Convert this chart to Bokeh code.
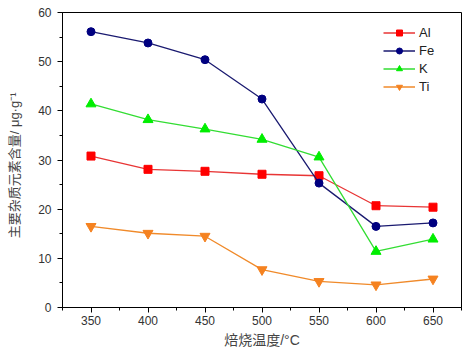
from bokeh.plotting import figure
from bokeh.models import ColumnDataSource, Range1d, SingleIntervalTicker, Legend, LegendItem
from bokeh.embed import file_html
from bokeh.resources import INLINE

temps = [350, 400, 450, 500, 550, 600, 650]
al = [30.8, 28.1, 27.7, 27.1, 26.8, 20.7, 20.4]
fe = [56.1, 53.8, 50.4, 42.4, 25.3, 16.5, 17.2]
k = [41.4, 38.2, 36.3, 34.2, 30.6, 11.4, 13.9]
ti = [16.5, 15.1, 14.5, 7.7, 5.3, 4.6, 5.8]
x_ticks = [350, 400, 450, 500, 550, 600, 650]
y_ticks = [0, 10, 20, 30, 40, 50, 60]

p = figure(width=471, height=355, output_backend="svg", toolbar_location=None,
           x_range=Range1d(325, 675), y_range=Range1d(0, 60),
           min_border_left=62, min_border_right=10, min_border_top=12, min_border_bottom=48)
p.background_fill_color = "white"
p.border_fill_color = "white"
p.outline_line_color = "black"
p.outline_line_width = 1
p.xgrid.visible = False
p.ygrid.visible = False

src = ColumnDataSource(dict(t=temps, al=al, fe=fe, k=k, ti=ti))

series = [
    ("Al", "al", "#e83535", "#ff0000", "square", 8),
    ("Fe", "fe", "#1a1a70", "#000080", "circle", 8),
    ("K", "k", "#33dd33", "#00ee00", "triangle", 10),
    ("Ti", "ti", "#f08a2a", "#f58220", "inverted_triangle", 10),
]
items = []
for name, col, lc, mc, mk, sz in series:
    l = p.line("t", col, source=src, line_color=lc, line_width=1.3)
    m = p.scatter("t", col, source=src, marker=mk, size=sz, fill_color=mc, line_color=mc)
    items.append(LegendItem(label=name, renderers=[l, m]))

legend = Legend(items=items, location=(321, 213))
legend.border_line_color = None
legend.background_fill_alpha = 0
legend.padding = 0
legend.margin = 0
legend.spacing = 3
legend.glyph_width = 32
legend.glyph_height = 15
legend.label_height = 15
legend.label_standoff = 4
legend.label_text_font = "Liberation Sans"
legend.label_text_font_size = "13px"
legend.label_text_color = "#222222"
p.add_layout(legend, "center")

xt = SingleIntervalTicker(interval=50, num_minor_ticks=2)
yt = SingleIntervalTicker(interval=10, num_minor_ticks=2)
p.xaxis.ticker = xt
p.yaxis.ticker = yt

for ax in (p.xaxis[0], p.yaxis[0]):
    ax.axis_line_color = "black"
    ax.major_tick_line_color = "black"
    ax.minor_tick_line_color = "black"
    ax.major_tick_out = 5
    ax.major_tick_in = 0
    ax.minor_tick_out = 3
    ax.minor_tick_in = 0
    ax.major_label_text_font = "Liberation Sans"
    ax.major_label_text_font_size = "12px"
    ax.major_label_text_color = "#333333"
    ax.axis_label_text_font = "Liberation Sans, Noto Sans CJK SC"
    ax.axis_label_text_font_style = "normal"
    ax.axis_label_text_color = "#444444"

p.xaxis.axis_label_text_font_size = "14px"
p.yaxis.axis_label_text_font_size = "13px"
p.xaxis.axis_label = "焙烧温度/°C"
p.yaxis.axis_label = "主要杂质元素含量/ μg·g⁻¹\u00a0\u00a0\u00a0"
p.xaxis.major_label_standoff = 3
p.xaxis.axis_label_standoff = 4
p.yaxis.major_label_standoff = 6
p.yaxis.axis_label_standoff = 13

open("out.html", "w").write(file_html(p, INLINE))
